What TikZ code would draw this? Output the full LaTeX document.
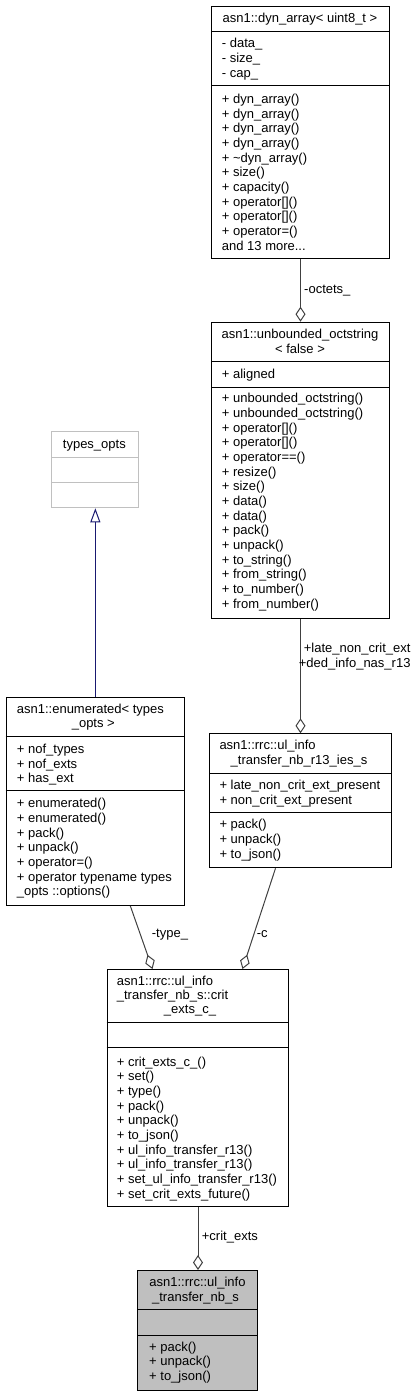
\documentclass[tikz,border=0pt]{standalone}
\usepackage{fontspec}
\setmainfont{Liberation Sans}
\usetikzlibrary{arrows.meta}
\definecolor{edgegrey}{HTML}{404040}
\definecolor{boxgrey}{HTML}{BFBFBF}
\definecolor{lightborder}{HTML}{C0C0C0}
\definecolor{inhnavy}{HTML}{191970}
\newcommand\dfont{\fontsize{13}{15}\selectfont}
\tikzset{
  umlbox/.style={draw=black, line width=1pt, rectangle, inner sep=0pt, anchor=north west},
  sepline/.style={draw=black, line width=1pt},
  txt/.style={anchor=base west, inner sep=0pt, font=\dfont},
  ctxt/.style={anchor=base, inner sep=0pt, font=\dfont},
  rtxt/.style={anchor=base east, inner sep=0pt, font=\dfont},
  agg/.style={draw=edgegrey, line width=1pt, -{Diamond[open, length=15pt, width=10pt]}},
  inh/.style={draw=inhnavy, line width=1pt, -{Triangle[open, length=14pt, width=10pt]}},
}
\begin{document}
\begin{tikzpicture}[x=1pt,y=-1pt]
\useasboundingbox (0,0) rectangle (417,1396);

% ---------------- dyn_array
\node[umlbox, minimum width=178pt, minimum height=252pt] (dyn) at (211,5.7) {};
\draw[sepline] (211,31.7) -- (389,31.7);
\draw[sepline] (211,86) -- (389,86);
\node[ctxt] (dynt) at (300,22.8) {asn1::dyn\_array< uint8\_t >};
\foreach \t [count=\i from 0] in {- data\_, - size\_, - cap\_}
  \node[txt, name=dyna\i] at (221.7, 47.8+\i*14.68) {\t};
\foreach \t [count=\i from 0] in {+ dyn\_array(), + dyn\_array(), + dyn\_array(), + dyn\_array(), + \textasciitilde dyn\_array(), + size(), + capacity(), + operator[](), + operator[](), + operator=()}
  \node[txt, name=dynm\i] at (221.7, 103.5+\i*14.68) {\t};
\node[txt] (dynmore) at (221.7, 250.3) {and 13 more...};

% ---------------- unbounded_octstring
\node[umlbox, minimum width=178pt, minimum height=296pt] (oct) at (211,321.7) {};
\draw[sepline] (211,361.7) -- (389,361.7);
\draw[sepline] (211,387) -- (389,387);
\node[ctxt] (octt1) at (300,338.5) {asn1::unbounded\_octstring};
\node[ctxt] (octt2) at (300,353.8) {< false >};
\node[txt] (octa0) at (221.7,378.5) {+ aligned};
\foreach \t [count=\i from 0] in {+ unbounded\_octstring(), + unbounded\_octstring(), + operator[](), + operator[](), + operator==(), + resize(), + size(), + data(), + data(), + pack(), + unpack(), + to\_string(), + from\_string(), + to\_number(), + from\_number()}
  \node[txt, name=octm\i] at (221.7, 402.8+\i*14.68) {\t};

% ---------------- types_opts
\node[umlbox, draw=lightborder, minimum width=86.7pt, minimum height=76.3pt] (types) at (51,431) {};
\draw[sepline, draw=lightborder] (51,457.3) -- (137.7,457.3);
\draw[sepline, draw=lightborder] (51,482.3) -- (137.7,482.3);
\node[ctxt] (typest) at (94.35,448.5) {types\_opts};

% ---------------- enumerated
\node[umlbox, minimum width=178.3pt, minimum height=208.3pt] (enum) at (5.7,696.7) {};
\draw[sepline] (5.7,736.7) -- (184,736.7);
\draw[sepline] (5.7,790.7) -- (184,790.7);
\node[txt] (enumt1) at (16.7,713.8) {asn1::enumerated< types};
\node[ctxt] (enumt2) at (93.3,727.8) {\_opts >};
\foreach \t [count=\i from 0] in {+ nof\_types, + nof\_exts, + has\_ext}
  \node[txt, name=enuma\i] at (16.7, 753.5+\i*14.68) {\t};
\foreach \t [count=\i from 0] in {+ enumerated(), + enumerated(), + pack(), + unpack(), + operator=(), + operator typename types, \_opts ::options()}
  \node[txt, name=enumm\i] at (16.7, 807.8+\i*14.68) {\t};

% ---------------- ul_info_transfer_nb_r13_ies_s
\node[umlbox, minimum width=182pt, minimum height=134pt] (r13) at (209,733.3) {};
\draw[sepline] (209,773.3) -- (391,773.3);
\draw[sepline] (209,812.7) -- (391,812.7);
\node[txt] (r13t1) at (219.3,749.5) {asn1::rrc::ul\_info};
\node[ctxt] (r13t2) at (299,764.5) {\_transfer\_nb\_r13\_ies\_s};
\foreach \t [count=\i from 0] in {+ late\_non\_crit\_ext\_present, + non\_crit\_ext\_present}
  \node[txt, name=r13a\i] at (219.3, 789.5+\i*14.68) {\t};
\foreach \t [count=\i from 0] in {+ pack(), + unpack(), + to\_json()}
  \node[txt, name=r13m\i] at (219.3, 828.8+\i*14.68) {\t};

% ---------------- crit_exts_c_
\node[umlbox, minimum width=181.6pt, minimum height=237pt] (crit) at (106.7,969) {};
\draw[sepline] (106.7,1022.3) -- (288.3,1022.3);
\draw[sepline] (106.7,1047.7) -- (288.3,1047.7);
\node[txt] (critt1) at (116.7,985.2) {asn1::rrc::ul\_info};
\node[txt] (critt2) at (116.7,999.6) {\_transfer\_nb\_s::crit};
\node[ctxt] (critt3) at (190,1013.8) {\_exts\_c\_};
\foreach \t [count=\i from 0] in {+ crit\_exts\_c\_(), + set(), + type(), + pack(), + unpack(), + to\_json(), + ul\_info\_transfer\_r13(), + ul\_info\_transfer\_r13(), + set\_ul\_info\_transfer\_r13(), + set\_crit\_exts\_future()}
  \node[txt, name=critm\i] at (116.7, 1066.2+\i*14.68) {\t};

% ---------------- ul_info_transfer_nb_s (main)
\node[umlbox, fill=boxgrey, minimum width=119.4pt, minimum height=120pt] (main) at (137.3,1270) {};
\draw[sepline] (137.3,1309.3) -- (256.7,1309.3);
\draw[sepline] (137.3,1335.7) -- (256.7,1335.7);
\node[ctxt] (maint1) at (197.5,1286.2) {asn1::rrc::ul\_info};
\node[ctxt] (maint2) at (195.5,1301.2) {\_transfer\_nb\_s};
\foreach \t [count=\i from 0] in {+ pack(), + unpack(), + to\_json()}
  \node[txt, name=mainm\i] at (149, 1351.2+\i*14.68) {\t};

% ---------------- connectors
\draw[agg] (dyn.south) -- (oct.north);
\node[txt] (lbloct) at (304,293.5) {-octets\_};

\draw[inh] (enum.north) -- (enum.north |- types.south);

\draw[agg] (oct.south) -- (r13.north);
\node[rtxt] (lblr13a) at (410.7,652.8) {+late\_non\_crit\_ext};
\node[rtxt] (lblr13b) at (410.7,667.8) {+ded\_info\_nas\_r13};

\draw[agg] ([xshift=35pt]enum.south) -- ([xshift=-45.5pt]crit.north);
\node[txt] (lbltype) at (151.7,937.5) {-type\_};

\draw[agg] ([xshift=-25pt]r13.south) -- ([xshift=44.5pt]crit.north);
\node[txt] (lblc) at (256.7,937.5) {-c};

\draw[agg] (crit.south) -- (crit.south |- main.north);
\node[txt] (lblcrit) at (201.7,1240.5) {+crit\_exts};
\end{tikzpicture}
\end{document}
